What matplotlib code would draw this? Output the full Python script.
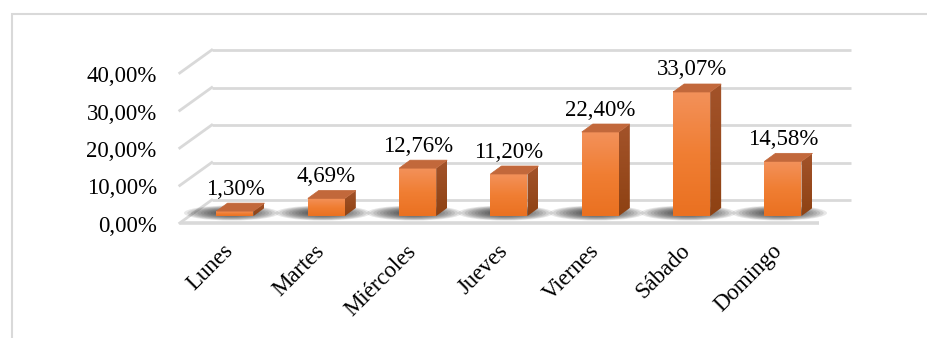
import numpy as np
import matplotlib
matplotlib.use("Agg")
import matplotlib.pyplot as plt
from matplotlib.patches import Polygon, Rectangle, Ellipse
from matplotlib.colors import LinearSegmentedColormap

# data
dias = ["Lunes", "Martes", "Miércoles", "Jueves", "Viernes", "Sábado", "Domingo"]
porcentajes = [1.30, 4.69, 12.76, 11.20, 22.40, 33.07, 14.58]
ticks_y = [0, 10, 20, 30, 40]
etiquetas_y = ["0,00%", "10,00%", "20,00%", "30,00%", "40,00%"]

W, H = 927, 338
PX_X = 91.33   # pixels per category
PX_Y = 3.75    # pixels per percentage point
X0, Y0 = 235, 216   # first bar front centre / bar base, in image pixels

FONT = "Liberation Serif"
FS = 16.5
GRID = "#D9D9D9"

# oblique 3-D offsets (data units) relative to the bar front plane
back = (22.4 / PX_X, 16 / PX_Y)
front = (-9.6 / PX_X, -7 / PX_Y)
depth = (11 / PX_X, 8 / PX_Y)
hw = 18.5 / PX_X

fig = plt.figure(figsize=(W / 100, H / 100), dpi=100)
ax = fig.add_axes([0, 0, 1, 1])
ax.set_xlim(-X0 / PX_X, (W - X0) / PX_X)
ax.set_ylim(-(H - Y0) / PX_Y, Y0 / PX_Y)
ax.set_autoscale_on(False)
ax.axis("off")

x_lo, x_hi = -0.5, len(dias) - 0.5

# back wall gridlines + left wall lines + tick labels
for v, lab in zip(ticks_y, etiquetas_y):
    ax.plot([x_lo + back[0], x_hi + back[0]], [v + back[1]] * 2,
            color=GRID, lw=2, zorder=1, solid_capstyle="butt")
    ax.plot([x_lo + back[0], x_lo + front[0]], [v + back[1], v + front[1]],
            color=GRID, lw=2, zorder=1)
    ax.text(x_lo + front[0] - 23 / PX_X, v + front[1] - 9 / PX_Y, lab,
            ha="right", va="baseline", fontsize=FS, family=FONT, color="black")

# floor front edge
ax.plot([x_lo + front[0], x_hi + front[0]], [front[1]] * 2,
        color=GRID, lw=2.6, zorder=1, solid_capstyle="butt")

front_cmap = LinearSegmentedColormap.from_list("f", ["#EA7121", "#F07E33", "#F3915A"])
side_cmap = LinearSegmentedColormap.from_list("s", ["#8E4213", "#A3532A"])
grad = np.linspace(0, 1, 64).reshape(-1, 1)

for i, (d, v) in enumerate(zip(dias, porcentajes)):
    # soft shadow on the floor
    cx, cy = i + depth[0] / 2 - 9 / PX_X, depth[1] / 2 - 1 / PX_Y
    for k in range(10):
        s = 1 - k * 0.07
        ax.add_patch(Ellipse((cx, cy), (2 * hw + 58 / PX_X) * s, (15 / PX_Y) * s,
                             fc="#262626", ec="none", alpha=0.11, zorder=2))

    # front face
    ax.imshow(grad, extent=(i - hw, i + hw, 0, v), origin="lower", cmap=front_cmap,
              aspect="auto", zorder=3, interpolation="bilinear")
    # side face
    side = Polygon([(i + hw, 0), (i + hw + depth[0], depth[1]),
                    (i + hw + depth[0], v + depth[1]), (i + hw, v)],
                   closed=True, fc="none", ec="none")
    ax.add_patch(side)
    im = ax.imshow(grad, extent=(i + hw, i + hw + depth[0], 0, v + depth[1]),
                   origin="lower", cmap=side_cmap, aspect="auto", zorder=3,
                   interpolation="bilinear")
    im.set_clip_path(side)
    # top face
    ax.add_patch(Polygon([(i - hw, v), (i + hw, v), (i + hw + depth[0], v + depth[1]),
                          (i - hw + depth[0], v + depth[1])],
                         closed=True, fc="#C2683B", ec="#C2683B", lw=0.5, zorder=3))

    # value label
    ax.text(i, v + depth[1] + 8.5 / PX_Y, f"{v:.2f}%".replace(".", ","),
            ha="center", va="baseline", fontsize=FS, family=FONT, zorder=4)

    # category label
    ax.text(i + front[0] + 5 / PX_X, front[1] - 25 / PX_Y, d, rotation=45,
            rotation_mode="anchor", ha="right", va="center",
            fontsize=FS, family=FONT, zorder=4)

# chart area border
fig.add_artist(Rectangle((12 / W, -0.1), 1.0, (H - 14) / H + 0.1,
                         transform=fig.transFigure, fill=False, ec=GRID, lw=1.5))

fig.savefig("out.png", dpi=100)
